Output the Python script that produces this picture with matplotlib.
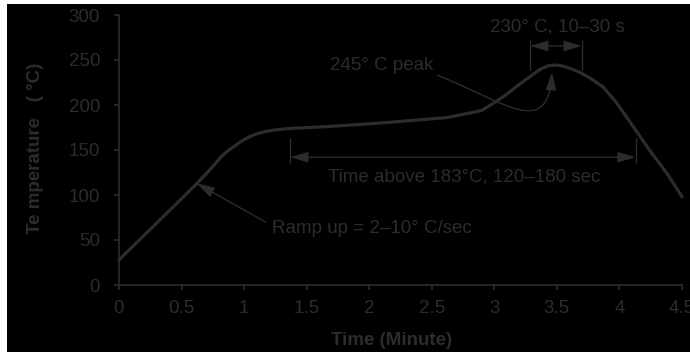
import numpy as np
import matplotlib.pyplot as plt
from matplotlib.patches import Rectangle, FancyArrowPatch
from matplotlib.path import Path
from matplotlib.ticker import FuncFormatter

# reflow profile
time_min = [0, 0.31, 0.61, 0.72, 0.77, 0.82, 0.87, 0.92, 0.98, 1.04, 1.10, 1.17,
            1.23, 1.37, 1.66, 2.09, 2.62, 2.8, 2.9, 2.97, 3.07, 3.21, 3.3, 3.37,
            3.43, 3.485, 3.54, 3.6, 3.68, 3.765, 3.87, 3.98, 4.11, 4.24, 4.38, 4.5]
temp_c = [28, 70, 111, 127, 135, 143, 149, 154, 160, 164.5, 168, 170.5,
          172, 174, 176, 180, 186, 191, 194, 200, 209, 224, 233, 240,
          243.5, 244.5, 243.5, 241, 236.5, 230, 220, 202, 176, 150, 124, 98]

x_ticks = [0, 0.5, 1, 1.5, 2, 2.5, 3, 3.5, 4, 4.5]
y_ticks = [0, 50, 100, 150, 200, 250, 300]

# annotation anchors (data units)
ramp_tip = (0.62, 113)
ramp_tail = (1.17, 70)
# curved "peak" arrow: start, two bezier controls, tip
peak_path = [(2.542, 233.3), (3.086, 203.3), (3.429, 161.1), (3.461, 236.7)]
tal_range = (1.367, 4.13)   # time above liquidus
tal_y = 142
top_range = (3.285, 3.70)   # time near peak
top_y = 265.6

ink = '#2c2c2c'
fs = 13.5
plt.rcParams['font.family'] = ['Liberation Sans', 'DejaVu Sans']
plt.rcParams['font.size'] = fs

fig = plt.figure(figsize=(6.9, 3.52), dpi=100, facecolor='white')
fig.patches.append(Rectangle((7 / 690, 0), 1 - 7 / 690, 1 - 4 / 352,
                             transform=fig.transFigure, facecolor='black',
                             edgecolor='none', zorder=-10))
ax = fig.add_axes([119 / 690, 1 - 285 / 352, 563 / 690, 270 / 352])
ax.set_facecolor('none')

ax.plot(time_min, temp_c, color=ink, lw=2.3, solid_joinstyle='round',
        solid_capstyle='round', clip_on=False)

ax.set_xlim(0, 4.5)
ax.set_ylim(0, 300)
ax.set_xticks(x_ticks)
ax.set_yticks(y_ticks)
ax.xaxis.set_major_formatter(FuncFormatter(lambda v, p: f'{v:g}'))
for s in ['top', 'right']:
    ax.spines[s].set_visible(False)
for s in ['left', 'bottom']:
    ax.spines[s].set_color(ink)
    ax.spines[s].set_linewidth(1.2)
ax.tick_params(axis='both', colors=ink, labelcolor=ink, length=3.6, width=1.2,
               labelsize=fs)
ax.tick_params(axis='y', pad=10)
ax.tick_params(axis='x', pad=7)

ax.set_xlabel('Time (Minute)', fontweight='bold', color=ink, va='center')
ax.xaxis.set_label_coords(0.485, -0.204)
ax.set_ylabel('Te mperature   ( °C)', fontweight='bold', color=ink, va='center')
ax.yaxis.set_label_coords(-0.148, 0.507)

arrow_one = '-|>,head_length=0.55,head_width=0.16'
arrow_two = '<|-|>,head_length=0.55,head_width=0.16'

# ramp-up arrow
ax.annotate('', xy=ramp_tip, xytext=ramp_tail,
            arrowprops=dict(arrowstyle=arrow_one, mutation_scale=20, color=ink,
                            lw=1.0, shrinkA=0, shrinkB=0))
ax.text(1.223, 63.3, 'Ramp up = 2–10° C/sec', color=ink, ha='left', va='center')

# peak arrow (curved)
curve = Path(peak_path, [Path.MOVETO, Path.CURVE4, Path.CURVE4, Path.CURVE4])
ax.add_patch(FancyArrowPatch(path=curve, arrowstyle=arrow_one, mutation_scale=20,
                             color=ink, lw=1.0, transform=ax.transData))
ax.text(1.687, 244.4, '245° C peak', color=ink, ha='left', va='center')

# time above 183 C
ax.annotate('', xy=(tal_range[0], tal_y), xytext=(tal_range[1], tal_y),
            arrowprops=dict(arrowstyle=arrow_two, mutation_scale=20, color=ink,
                            lw=1.0, shrinkA=0, shrinkB=0))
ax.vlines(tal_range, 135.6, 163, color=ink, lw=1.0)
ax.text(2.758, 120, 'Time above 183°C, 120–180 sec', color=ink,
        ha='center', va='center')

# time near peak
ax.annotate('', xy=(top_range[0], top_y), xytext=(top_range[1], top_y),
            arrowprops=dict(arrowstyle=arrow_two, mutation_scale=20, color=ink,
                            lw=1.0, shrinkA=0, shrinkB=0))
ax.vlines(top_range, 239, 272, color=ink, lw=1.0, clip_on=False)
ax.text(3.505, 286.7, '230° C, 10–30 s', color=ink, ha='center', va='center')

fig.savefig('out.png', dpi=100, facecolor=fig.get_facecolor())
